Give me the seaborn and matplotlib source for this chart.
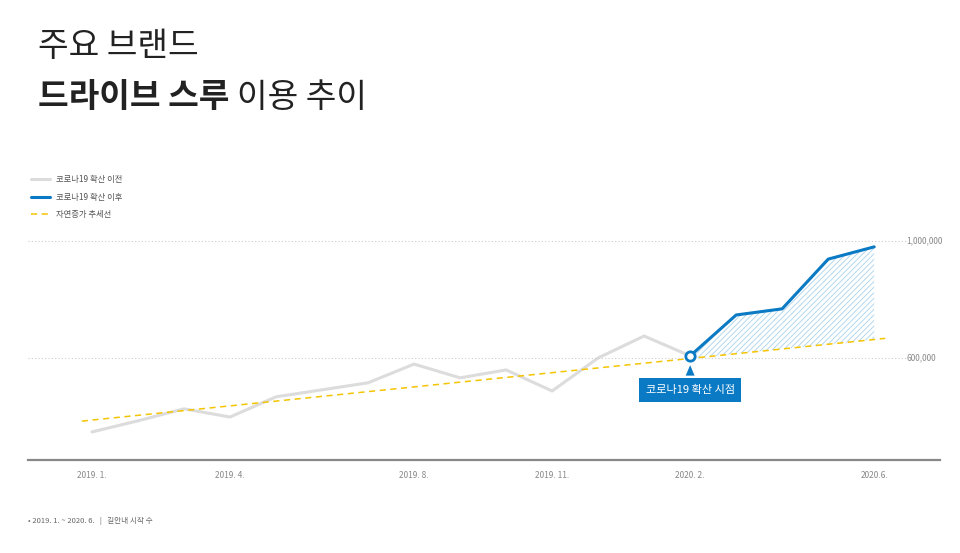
import numpy as np
import pandas as pd
import seaborn as sns
import matplotlib.pyplot as plt
from matplotlib.transforms import blended_transform_factory

sns.set_style("white")
plt.rcParams['font.family'] = ['Noto Sans CJK KR', 'DejaVu Sans']

months = list(range(18))
tick_pos = [0, 3, 7, 10, 13, 17]
tick_labels = ["2019. 1.", "2019. 4.", "2019. 8.", "2019. 11.", "2020. 2.", "2020.6."]
values = [347000, 385000, 426000, 398000, 467000, 491000, 515000, 579000, 532000,
          559000, 487000, 600000, 675000, 607000, 747000, 768000, 938000, 980000]
trend_x = [-0.22, 17.24]
trend_y = [384000, 667000]
covid_idx = 13

df = pd.DataFrame({"month": months, "value": values})
before = df[df.month <= covid_idx]
after = df[df.month >= covid_idx]

fig = plt.figure(figsize=(9.6, 5.53), dpi=100)
ax = fig.add_axes([28/960, 1-460/553, 912/960, 225/553])

gray, blue, yellow = "#dcdcdc", "#0a7ac4", "#f5c400"
sns.lineplot(data=before, x="month", y="value", color=gray, lw=2.2, ax=ax, label="코로나19 확산 이전")
sns.lineplot(data=after, x="month", y="value", color=blue, lw=2.2, ax=ax, label="코로나19 확산 이후")
ax.plot(trend_x, trend_y, color=yellow, lw=1.1, ls=(0, (4, 3)), label="자연증가 추세선")

# hatched gap between actual and trend after covid
slope = (trend_y[1]-trend_y[0])/(trend_x[1]-trend_x[0])
tr = trend_y[0] + slope*(after.month.values - trend_x[0])
plt.rcParams['hatch.linewidth'] = 0.6
ax.fill_between(after.month.values, tr, after.value.values, facecolor="none",
                edgecolor="#a9d2ec", hatch="//////", lw=0)
ax.scatter([covid_idx], [values[covid_idx]], s=45, facecolor="white", edgecolor=blue, lw=2, zorder=5)

ax.set_xlim(-1.39, 18.43)
ax.set_ylim(251000, 1020500)
for gy in [600000, 1000000]:
    ax.plot([-1.39, 17.7], [gy, gy], color="#cccccc", lw=0.8, ls=(0, (1, 2)))
tb = blended_transform_factory(ax.transAxes, ax.transData)
ax.text(0.963, 1000000, "1,000,000", transform=tb, fontsize=6, color="#888888", va="center")
ax.text(0.963, 600000, "600,000", transform=tb, fontsize=6, color="#888888", va="center")

ax.set_xticks(tick_pos)
ax.set_xticklabels(tick_labels, fontsize=6, color="#888888")
ax.tick_params(axis="x", length=0, pad=8)
ax.set_yticks([])
ax.set_xlabel("")
ax.set_ylabel("")
for s in ["top", "left", "right"]:
    ax.spines[s].set_visible(False)
ax.spines["bottom"].set_color("#888888")
ax.spines["bottom"].set_linewidth(1.6)

ax.annotate("코로나19 확산 시점", xy=(covid_idx, values[covid_idx]-22000),
            xytext=(covid_idx, 490000), ha="center", va="center", fontsize=8, color="white",
            bbox=dict(boxstyle="square,pad=0.6", fc=blue, ec="none"),
            arrowprops=dict(arrowstyle="wedge,tail_width=0.8", fc=blue, ec="none"))

leg = ax.legend(loc="upper left", bbox_to_anchor=(0, 1+(235-172)/225), frameon=False,
                fontsize=6, handlelength=2.2, labelspacing=1.0, borderaxespad=0)
for t in leg.get_texts():
    t.set_color("#555555")

fig.text(38/960, 1-47/553, "주요 브랜드", fontsize=24, color="#222222", va="center")
bt = fig.text(38/960, 1-97/553, "드라이브 스루", fontsize=24, fontweight="bold", color="#222222", va="center")
fig.canvas.draw()
bb = bt.get_window_extent()
fig.text(bb.x1/960 + 0.008, 1-97/553, "이용 추이", fontsize=24, color="#222222", va="center")
fig.text(28/960, 1-521/553, "• 2019. 1. ~ 2020. 6.   |   길안내 시작 수", fontsize=5.5, color="#666666", va="center")

fig.savefig("out.png", dpi=100)
